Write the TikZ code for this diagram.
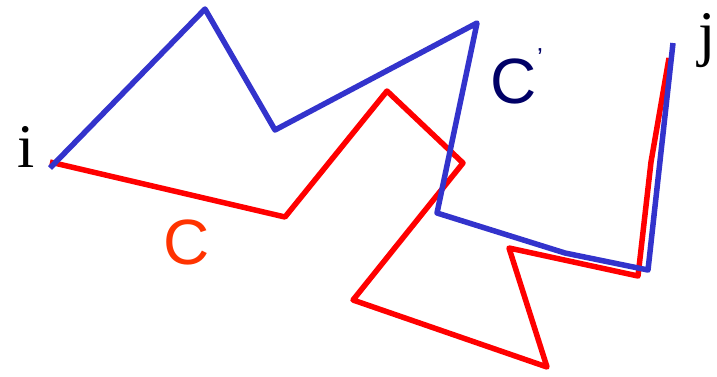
\documentclass[tikz,border=0pt]{standalone}
\usepackage{fontspec}
\setmainfont{Liberation Serif}
\setsansfont{Liberation Sans}
\definecolor{cblue}{HTML}{3333CC}
\definecolor{cred}{HTML}{FF0000}
\definecolor{cnavy}{HTML}{000066}
\definecolor{corange}{HTML}{FF3300}
\begin{document}
\begin{tikzpicture}[x=1pt,y=-1pt,
  curve/.style={line width=5.5pt,line join=round},
  endlabel/.style={font=\fontsize{62}{62}\selectfont\rmfamily,inner sep=0pt,anchor=base},
  curvelabel/.style={font=\fontsize{64}{64}\selectfont\sffamily,inner sep=0pt,anchor=base}]
\useasboundingbox (0,0) rectangle (717,376);
% red curve C
\coordinate (r0) at (50,162);
\coordinate (r1) at (285,217);
\coordinate (r2) at (387,91);
\coordinate (r3) at (463,163);
\coordinate (r4) at (353,300);
\coordinate (r5) at (547,367);
\coordinate (r6) at (509,248);
\coordinate (r7) at (638,276);
\coordinate (r8) at (651,162);
\coordinate (r9) at (669,58);
\draw[curve,cred] (r0) -- (r1) -- (r2) -- (r3) -- (r4) -- (r5) -- (r6) -- (r7) -- (r8) -- (r9);
% blue curve C'
\coordinate (b0) at (50,168);
\coordinate (b1) at (205,9);
\coordinate (b2) at (275,130);
\coordinate (b3) at (477,23);
\coordinate (b4) at (437,213);
\coordinate (b5) at (565,253);
\coordinate (b6) at (648,270);
\coordinate (b7) at (673,43);
\draw[curve,cblue] (b0) -- (b1) -- (b2) -- (b3) -- (b4) -- (b5) -- (b6) -- (b7);
% labels
\node[endlabel] (i) at (26,167) {i};
\node[endlabel] (j) at (707,54) {j};
\node[curvelabel,text=corange] (C) at (187,264) {C};
\node[curvelabel,text=cnavy] (Cp) at (514,103) {C};
\node[font=\fontsize{26}{26}\selectfont\sffamily,inner sep=0pt,anchor=north,text=cnavy] (pr) at (540,48) {’};
\end{tikzpicture}
\end{document}
